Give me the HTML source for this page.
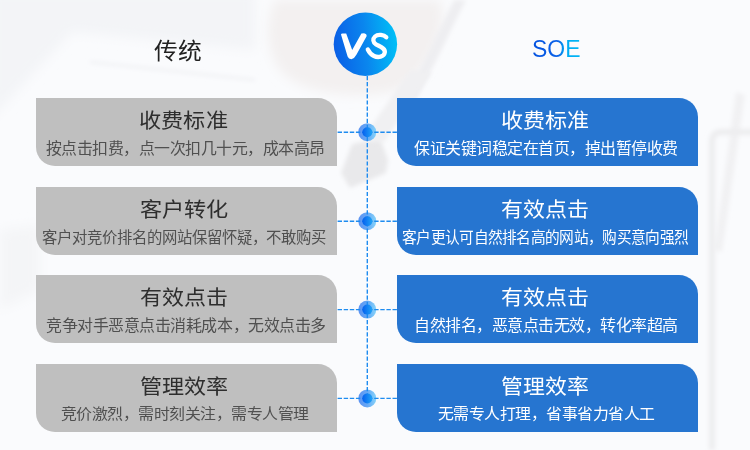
<!DOCTYPE html>
<html lang="zh-CN"><head><meta charset="utf-8">
<style>
html,body{margin:0;padding:0;}
body{width:750px;height:450px;overflow:hidden;position:relative;background:#fafbfd;font-family:"Liberation Sans",sans-serif;}
.bg{position:absolute;left:0;top:0;width:750px;height:450px;}
.box{position:absolute;width:300.6px;height:67.5px;border-radius:0 19px 0 19px;}
.g{left:36px;background:#bfbfbf;}
.b{left:397px;background:#2675d0;}
.tx{position:absolute;white-space:nowrap;line-height:1;transform-origin:0 0;}
.soe{background:linear-gradient(90deg,#0452e0 0%,#0a62e8 55%,#00aaf3 68%,#00b6f5 100%);-webkit-background-clip:text;background-clip:text;color:transparent !important;}
svg.ov{position:absolute;left:0;top:0;}
</style></head>
<body>
<svg class="bg" width="750" height="450" viewBox="0 0 750 450">
<defs><filter id="bl" x="-30%" y="-30%" width="160%" height="160%"><feGaussianBlur stdDeviation="6"/></filter>
<filter id="bl2" x="-30%" y="-30%" width="160%" height="160%"><feGaussianBlur stdDeviation="2"/></filter></defs>
<path d="M-10 -10 L255 -10 L255 50 L72 32 L-10 120Z" fill="#f3f4f7" filter="url(#bl)"/>
<path d="M90 62 L255 80" stroke="#f1f2f5" stroke-width="3" fill="none" filter="url(#bl2)"/>
<path d="M275 0 L440 0 C450 30 430 70 400 90 C360 100 300 95 280 70 C265 50 265 20 275 0Z" fill="#f3f0f0" filter="url(#bl)"/>
<path d="M454 0 L466 0 L416 100 L406 97Z" fill="#eeeef1" filter="url(#bl2)"/>
<path d="M745 95 L736 92 L714 250 L722 252Z" fill="#f1f1f3" filter="url(#bl2)"/>
<path d="M760 132 L722 132 Q712 132 712 142 L712 450" fill="none" stroke="#ededef" stroke-width="6" filter="url(#bl2)"/>
<path d="M0 230 L40 225 L40 290 L0 310Z" fill="#f4f5f7" filter="url(#bl)"/>
<path d="M352 144 L380 138 L388 160 L386 173 L350 188 L341 173Z" fill="#e9e9eb" filter="url(#bl2)"/>
<path d="M362 140 L410 70 L432 72 L384 142Z" fill="#f0f0f2" filter="url(#bl2)"/>
</svg>
<div class="box g" style="top:98px"></div>
<div class="box g" style="top:187px"></div>
<div class="box g" style="top:275px"></div>
<div class="box g" style="top:364px"></div>
<div class="box b" style="top:98px"></div>
<div class="box b" style="top:187px"></div>
<div class="box b" style="top:275px"></div>
<div class="box b" style="top:364px"></div>
<svg class="ov" width="750" height="450" viewBox="0 0 750 450">
<defs>
<linearGradient id="vsg" x1="0" y1="0.55" x2="1" y2="0.45">
<stop offset="0" stop-color="#0a5ee6"/><stop offset="0.5" stop-color="#0a86ee"/><stop offset="1" stop-color="#00c0f7"/>
</linearGradient>
<linearGradient id="dg" x1="0" y1="0" x2="1" y2="0">
<stop offset="0" stop-color="#0560ee"/><stop offset="1" stop-color="#1fa4f8"/>
</linearGradient>
<linearGradient id="rg" x1="0" y1="0" x2="1" y2="0">
<stop offset="0" stop-color="#5b92f2"/><stop offset="0.5" stop-color="#66a8f5"/><stop offset="1" stop-color="#86d4fa"/>
</linearGradient>
</defs>
<g>
<circle cx="367.3" cy="132.2" r="9" fill="url(#rg)"/>
<circle cx="367.3" cy="221.2" r="9" fill="url(#rg)"/>
<circle cx="367.3" cy="309.6" r="9" fill="url(#rg)"/>
<circle cx="367.3" cy="398.4" r="9" fill="url(#rg)"/>
</g>
<g stroke="#1e8cf0" stroke-width="1.4" fill="none">
<line x1="367.3" y1="76" x2="367.3" y2="398" stroke-dasharray="4.2 1.9"/>
<line x1="337.6" y1="132.2" x2="397" y2="132.2" stroke-dasharray="4.4 1.7"/>
<line x1="337.6" y1="221.2" x2="397" y2="221.2" stroke-dasharray="4.4 1.7"/>
<line x1="337.6" y1="309.6" x2="397" y2="309.6" stroke-dasharray="4.4 1.7"/>
<line x1="337.6" y1="398.4" x2="397" y2="398.4" stroke-dasharray="4.4 1.7"/>
</g>
<g>
<circle cx="367.3" cy="132.2" r="5" fill="url(#dg)"/>
<circle cx="367.3" cy="221.2" r="5" fill="url(#dg)"/>
<circle cx="367.3" cy="309.6" r="5" fill="url(#dg)"/>
<circle cx="367.3" cy="398.4" r="5" fill="url(#dg)"/>
</g>
<circle cx="365.4" cy="44.2" r="31.7" fill="url(#vsg)"/>
<path fill="#fff" d="M341 34.6 Q341 33.4 342.6 33.4 L346.2 33.4 L352.2 50 L361.4 33.6 L364 33.2 Q367 33.8 366.6 36.2 L356.4 54.8 Q354.4 58.6 351.4 59.3 Q348.6 59.2 347.6 56.6 Z"/>
<path fill="none" stroke="#fff" stroke-linecap="round" stroke-linejoin="round" stroke-width="4.3" d="M386.3 37.3 C384 34.8 378 33.8 375 36.5 C372.5 38.8 372.8 42.5 376 44.3 C380 46.5 385.5 48.2 384.8 52.5 C384 57 378 58 374 56 C371.5 54.8 369 52 367.8 49.5"/>
</svg>
<div class="tx hd" style="left:154.34px;top:39.82px;font-size:23.00px;transform:scale(1.0309,0.9821);color:#222;">传统</div>
<div class="tx hd soe" style="left:532.03px;top:36.98px;font-size:24.30px;transform:scale(0.9464,1.0213);color:#0a5ce6;">SOE</div>
<div class="tx tt" style="left:139.32px;top:111.12px;font-size:22.00px;transform:scale(1.0077,0.9356);color:#2e2e2e;">收费标准</div>
<div class="tx st" style="left:45.68px;top:140.77px;font-size:15.40px;transform:scale(1.0327,1.0010);color:#505050;">按点击扣费，点一次扣几十元，成本高昂</div>
<div class="tx tt" style="left:500.76px;top:111.17px;font-size:22.00px;transform:scale(1.0033,0.9384);color:#fff;">收费标准</div>
<div class="tx st" style="left:414.16px;top:141.08px;font-size:15.40px;transform:scale(1.0342,1.0020);color:#fff;">保证关键词稳定在首页，掉出暂停收费</div>
<div class="tx tt" style="left:140.49px;top:199.55px;font-size:22.00px;transform:scale(1.0067,0.9477);color:#2e2e2e;">客户转化</div>
<div class="tx st" style="left:41.52px;top:229.52px;font-size:15.40px;transform:scale(0.9977,0.9983);color:#505050;">客户对竞价排名的网站保留怀疑，不敢购买</div>
<div class="tx tt" style="left:501.12px;top:199.80px;font-size:22.00px;transform:scale(0.9997,0.9439);color:#fff;">有效点击</div>
<div class="tx st" style="left:402.29px;top:229.57px;font-size:15.40px;transform:scale(0.9538,0.9967);color:#fff;">客户更认可自然排名高的网站，购买意向强烈</div>
<div class="tx tt" style="left:140.12px;top:287.80px;font-size:22.00px;transform:scale(0.9997,0.9439);color:#2e2e2e;">有效点击</div>
<div class="tx st" style="left:45.74px;top:317.64px;font-size:15.40px;transform:scale(1.0363,1.0017);color:#505050;">竞争对手恶意点击消耗成本，无效点击多</div>
<div class="tx tt" style="left:501.12px;top:287.80px;font-size:22.00px;transform:scale(0.9997,0.9439);color:#fff;">有效点击</div>
<div class="tx st" style="left:413.50px;top:317.61px;font-size:15.40px;transform:scale(1.0350,0.9995);color:#fff;">自然排名，恶意点击无效，转化率超高</div>
<div class="tx tt" style="left:140.41px;top:376.96px;font-size:22.00px;transform:scale(1.0034,0.9351);color:#2e2e2e;">管理效率</div>
<div class="tx st" style="left:61.27px;top:406.37px;font-size:15.40px;transform:scale(1.0328,0.9875);color:#505050;">竞价激烈，需时刻关注，需专人管理</div>
<div class="tx tt" style="left:501.38px;top:376.81px;font-size:22.00px;transform:scale(0.9943,0.9450);color:#fff;">管理效率</div>
<div class="tx st" style="left:437.57px;top:406.25px;font-size:15.40px;transform:scale(1.0314,0.9932);color:#fff;">无需专人打理，省事省力省人工</div>
</body></html>
